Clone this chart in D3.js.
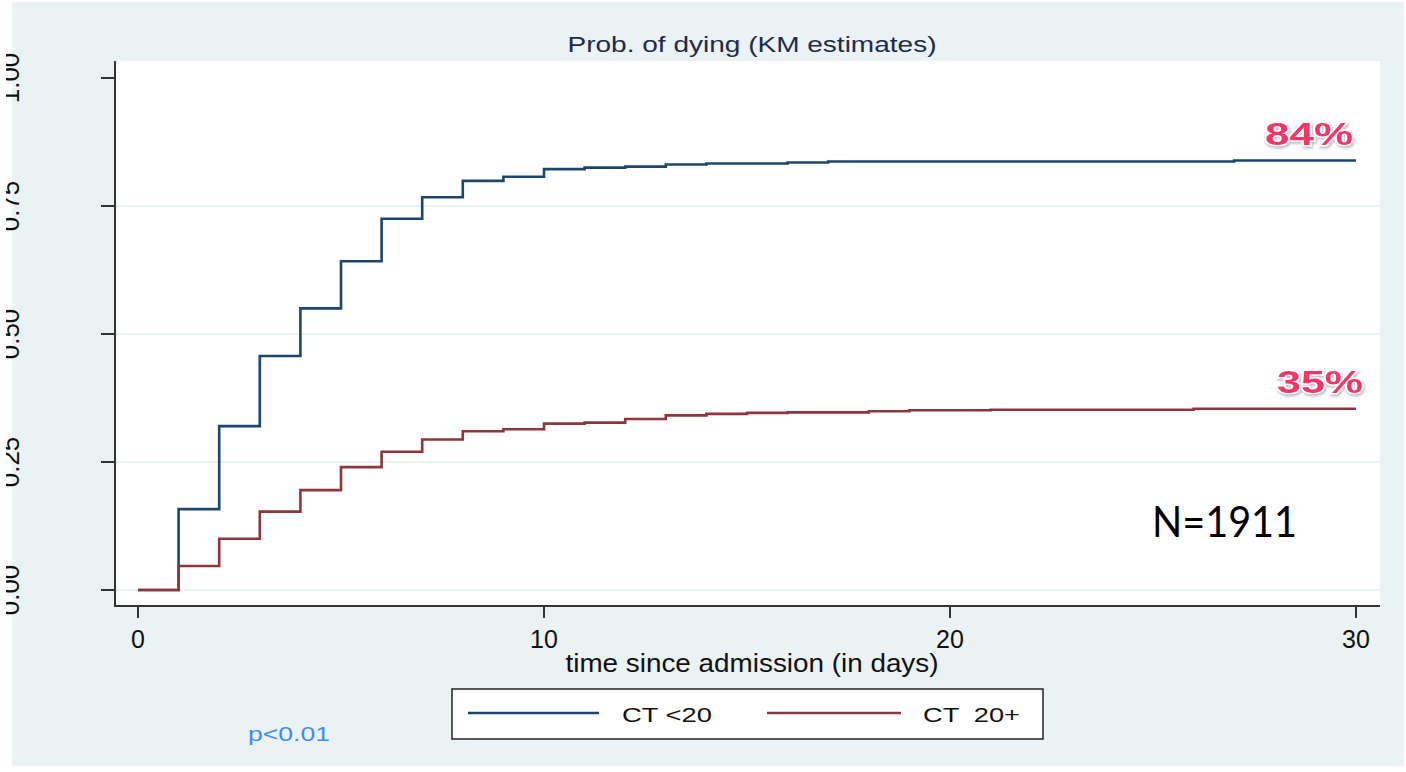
<!DOCTYPE html>
<html>
<head>
<meta charset="utf-8">
<script src="https://cdn.jsdelivr.net/npm/d3@7"></script>
<style>
  body { margin: 0; background: #fff; }
  svg { display: block; font-family: "Liberation Sans", Arial, sans-serif; }
  .pct { filter: drop-shadow(1px 2px 1px rgba(0,0,0,0.25)); }
</style>
</head>
<body>
<svg id="chart" width="1406" height="772"></svg>
<script>
// KM step estimates
const blueTimes = [0, 1, 2, 3, 4, 5, 6, 7, 8, 9, 10, 11, 12, 13, 14, 16, 17, 27, 30];
const blueProb  = [0, 0.158, 0.320, 0.457, 0.550, 0.642, 0.725, 0.767, 0.799, 0.807, 0.822, 0.825, 0.827, 0.831, 0.833, 0.835, 0.837, 0.839, 0.839];
const redTimes  = [0, 1, 2, 3, 4, 5, 6, 7, 8, 9, 10, 11, 12, 13, 14, 15, 16, 18, 19, 21, 26, 30];
const redProb   = [0, 0.047, 0.100, 0.153, 0.195, 0.240, 0.270, 0.294, 0.310, 0.314, 0.325, 0.327, 0.334, 0.341, 0.344, 0.346, 0.347, 0.349, 0.351, 0.352, 0.354, 0.354];
const xTicks = [0, 10, 20, 30];
const yTicks = [0, 0.25, 0.5, 0.75, 1];
const seriesNames = ["CT <20", "CT  20+"];
const endLabels = ["84%", "35%"];

const svg = d3.select("#chart");
const x = d3.scaleLinear().domain([0, 30]).range([138, 1356]);
const y = d3.scaleLinear().domain([0, 1]).range([590, 78]);

// background + plot region
svg.append("rect").attr("x", 12).attr("y", 2).attr("width", 1392).attr("height", 764).attr("fill", "#eaf2f3");
svg.append("rect").attr("x", 115).attr("y", 61).attr("width", 1265).attr("height", 545).attr("fill", "#fff");

// grid
svg.append("g")
  .selectAll("line")
  .data(yTicks.filter(d => d < 1))
  .join("line")
  .attr("x1", 116).attr("x2", 1380)
  .attr("y1", d => y(d)).attr("y2", d => y(d))
  .attr("stroke", "#eaf2f3").attr("stroke-width", 2);

svg.append("text")
  .attr("x", 752).attr("y", 52)
  .attr("text-anchor", "middle")
  .attr("font-size", 22)
  .attr("fill", "#1e2b4d")
  .attr("textLength", 369).attr("lengthAdjust", "spacingAndGlyphs")
  .text("Prob. of dying (KM estimates)");

// y axis
const yAxis = svg.append("g").attr("stroke", "#333");
yAxis.append("line").attr("x1", 115).attr("x2", 115).attr("y1", 61).attr("y2", 607).attr("stroke-width", 2);
yAxis.selectAll("line.t")
  .data(yTicks)
  .join("line").attr("class", "t")
  .attr("x1", 101).attr("x2", 115)
  .attr("y1", d => y(d)).attr("y2", d => y(d))
  .attr("stroke-width", 2);

svg.append("clipPath").attr("id", "yclip")
  .append("rect").attr("x", 6).attr("y", 0).attr("width", 100).attr("height", 772);
svg.append("g").attr("clip-path", "url(#yclip)")
  .selectAll("text")
  .data(yTicks)
  .join("text")
  .attr("transform", d => `translate(19,${y(d)}) rotate(-90)`)
  .attr("text-anchor", "middle")
  .attr("font-size", 26)
  .attr("fill", "#111")
  .text(d3.format(".2f"));

// x axis
const xAxis = svg.append("g");
xAxis.append("line").attr("x1", 114).attr("x2", 1380).attr("y1", 606).attr("y2", 606).attr("stroke", "#333").attr("stroke-width", 2);
xAxis.selectAll("line.t")
  .data(xTicks)
  .join("line").attr("class", "t")
  .attr("x1", d => x(d)).attr("x2", d => x(d))
  .attr("y1", 606).attr("y2", 618)
  .attr("stroke", "#333").attr("stroke-width", 2);
xAxis.selectAll("text")
  .data(xTicks)
  .join("text")
  .attr("x", d => x(d)).attr("y", 648)
  .attr("text-anchor", "middle")
  .attr("font-size", 25)
  .attr("fill", "#111")
  .text(d => d);
svg.append("text")
  .attr("x", 752).attr("y", 672)
  .attr("text-anchor", "middle")
  .attr("font-size", 25)
  .attr("fill", "#111")
  .attr("textLength", 373).attr("lengthAdjust", "spacingAndGlyphs")
  .text("time since admission (in days)");

// curves
const step = d3.line().curve(d3.curveStepAfter).x(d => x(d[0])).y(d => y(d[1]));
const series = [
  { pts: d3.zip(blueTimes, blueProb), color: "#1a476f" },
  { pts: d3.zip(redTimes, redProb), color: "#90353b" }
];
svg.append("g")
  .selectAll("path")
  .data(series)
  .join("path")
  .attr("d", d => step(d.pts))
  .attr("fill", "none")
  .attr("stroke", d => d.color)
  .attr("stroke-width", 2.6);

// end-of-curve percentages
const endPos = [
  { v: blueProb[blueProb.length - 1], dx: -3, dy: -15, w: 88 },
  { v: redProb[redProb.length - 1], dx: 7, dy: -16, w: 86 }
];
svg.append("g")
  .selectAll("text")
  .data(endPos)
  .join("text")
  .attr("class", "pct")
  .attr("x", d => x(30) + d.dx)
  .attr("y", d => y(d.v) + d.dy)
  .attr("text-anchor", "end")
  .attr("font-size", 31)
  .attr("font-weight", "bold")
  .attr("fill", "#fb3466")
  .attr("stroke", "#fff").attr("stroke-width", 3)
  .attr("paint-order", "stroke")
  .attr("textLength", d => d.w).attr("lengthAdjust", "spacingAndGlyphs")
  .text((d, i) => endLabels[i]);

svg.append("text")
  .attr("x", 1152).attr("y", 537)
  .attr("font-family", "Lato, 'Open Sans', sans-serif")
  .attr("font-size", 42)
  .attr("fill", "#000")
  .attr("textLength", 145).attr("lengthAdjust", "spacingAndGlyphs")
  .text("N=1911");

// legend
const leg = svg.append("g");
leg.append("rect").attr("x", 452).attr("y", 689).attr("width", 591).attr("height", 50)
  .attr("fill", "#fff").attr("stroke", "#222").attr("stroke-width", 1.5);
const legItems = [
  { x0: 468, x1: 599, tx: 622, tw: 90, color: series[0].color },
  { x0: 767, x1: 901, tx: 923, tw: 97, color: series[1].color }
];
leg.selectAll("line")
  .data(legItems)
  .join("line")
  .attr("x1", d => d.x0).attr("x2", d => d.x1)
  .attr("y1", 713).attr("y2", 713)
  .attr("stroke", d => d.color).attr("stroke-width", 2.6);
leg.selectAll("text")
  .data(legItems)
  .join("text")
  .attr("x", d => d.tx).attr("y", 722)
  .attr("font-size", 21)
  .attr("fill", "#111")
  .attr("textLength", d => d.tw).attr("lengthAdjust", "spacingAndGlyphs")
  .style("white-space", "pre")
  .text((d, i) => seriesNames[i]);

svg.append("text")
  .attr("x", 248).attr("y", 741)
  .attr("font-size", 19.5)
  .attr("fill", "#3d8ef0")
  .attr("textLength", 82).attr("lengthAdjust", "spacingAndGlyphs")
  .text("p<0.01");
</script>
</body>
</html>
